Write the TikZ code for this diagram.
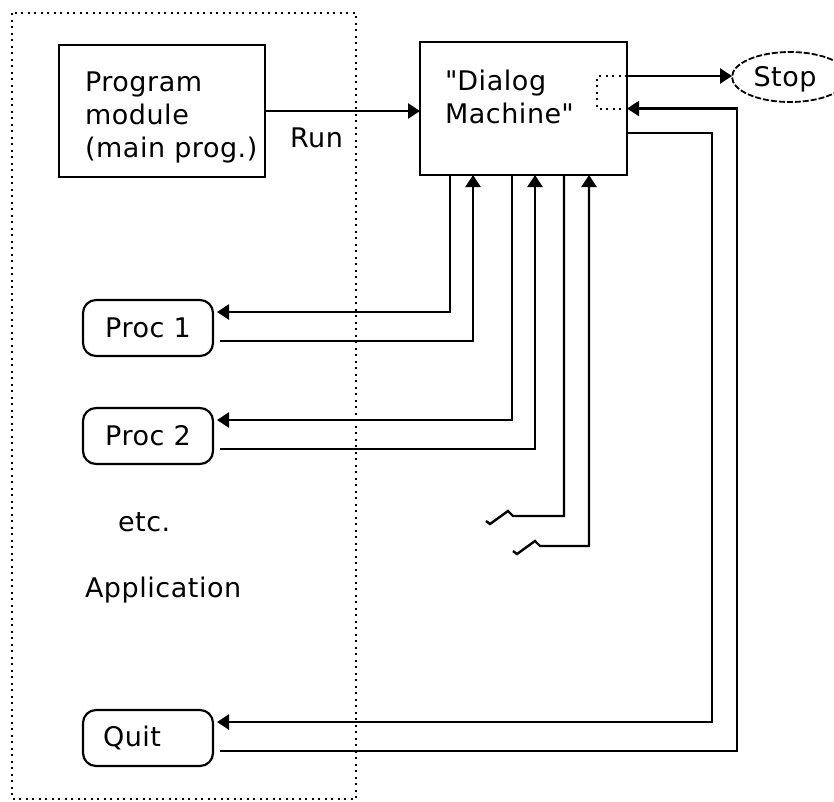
\documentclass[tikz,border=0pt]{standalone}
\usepackage{fontspec}
\setmainfont{DejaVu Sans}[LetterSpace=2]
\font\dqfont="DejaVu Sans" at 27pt
\newcommand{\sq}{{\dqfont\char34}}
\usetikzlibrary{arrows.meta,shapes.geometric}
\begin{document}
\begin{tikzpicture}[x=1pt,y=-1pt,
  every node/.style={font=\fontsize{27}{33}\selectfont, inner sep=0pt, outer sep=0pt},
  lbl/.style={align=left},
  sqbox/.style={draw, line width=2.4pt, rectangle},
  procbox/.style={draw, line width=2.2pt, rectangle, rounded corners=13pt,
    minimum width=130pt, minimum height=56pt},
  conn/.style={line width=2.4pt},
  arr/.style={line width=2.4pt, -{Triangle[length=12pt,width=15pt]}},
  dots/.style={line width=2pt, dash pattern=on 2pt off 4.5pt},
  stopshape/.style={draw, ellipse, line width=1.8pt, dash pattern=on 6pt off 2pt,
    minimum width=116pt, minimum height=50pt}
]
\useasboundingbox (0,0) rectangle (834,801);
\clip (0,0) rectangle (834,801);

% application boundary
\draw[dots] (12,13) rectangle (356,799);

% boxes
\node[sqbox, minimum width=206pt, minimum height=132pt] (prog) at (162,111) {};
\node[lbl, anchor=north west] (progtxt) at (85,72) {Program\\module\\(main prog.)};
\node[anchor=base west] (run) at (290,147) {Run};

\node[sqbox, minimum width=207pt, minimum height=133pt] (dm) at (523.5,108.5) {};
\node[lbl, anchor=north west] (dmtxt) at (445,70) {\sq Dialog\\Machine\sq};

\node[stopshape] (stop) at (790,77) {};
\node[anchor=base] (stoptxt) at (785,86) {Stop};

\node[procbox] (p1) at (148,328) {Proc 1};
\node[procbox] (p2) at (148,436) {Proc 2};
\node[procbox, align=left, text width=90pt] (quit) at (148,738) {Quit};

\node[anchor=base west] (etc) at (118,531) {etc.};
\node[anchor=base west] (app) at (85,597) {Application};

% Run
\draw[arr] (prog.east) -- (prog.east -| dm.west);

% Stop and its return port
\coordinate (dmout) at ([yshift=32.5pt]dm.east);
\coordinate (dmquit) at ([yshift=-24.5pt]dm.east);
\draw[arr] (dmout) -- (dmout -| stop.west);
\draw[dots] (dmout) -- ++(-30,0) -- ++(0,32.5) -- (dm.east);

% Proc 1
\draw[arr] ([xshift=-73.5pt]dm.south) |- ([xshift=4pt,yshift=16pt]p1.east);
\draw[arr] ([xshift=7pt,yshift=-13pt]p1.east) -| ([xshift=-50.5pt]dm.south);

% Proc 2
\draw[arr] ([xshift=-11.5pt]dm.south) |- ([xshift=4pt,yshift=16pt]p2.east);
\draw[arr] ([xshift=7pt,yshift=-13pt]p2.east) -| ([xshift=11.5pt]dm.south);

% further procedures (broken lines)
\coordinate (sq1) at (513,516);
\coordinate (sq2) at (540,546);
\draw[conn] ([xshift=40.5pt]dm.south) |- (sq1) -- ++(-5,-5) -- ++(-18,13) -- ++(-4,-3);
\draw[arr] (sq2) ++(-27,5) -- ++(4,3) -- ++(18,-13) -- ++(5,5) -| ([xshift=65.5pt]dm.south);

% Quit
\draw[arr] (dmquit) -- ++(85,0) |- ([xshift=4pt,yshift=16pt]quit.east);
\draw[arr] ([xshift=7pt,yshift=-13pt]quit.east) -| ([xshift=110pt]dm.east) -- (dm.east);
\end{tikzpicture}
\end{document}
